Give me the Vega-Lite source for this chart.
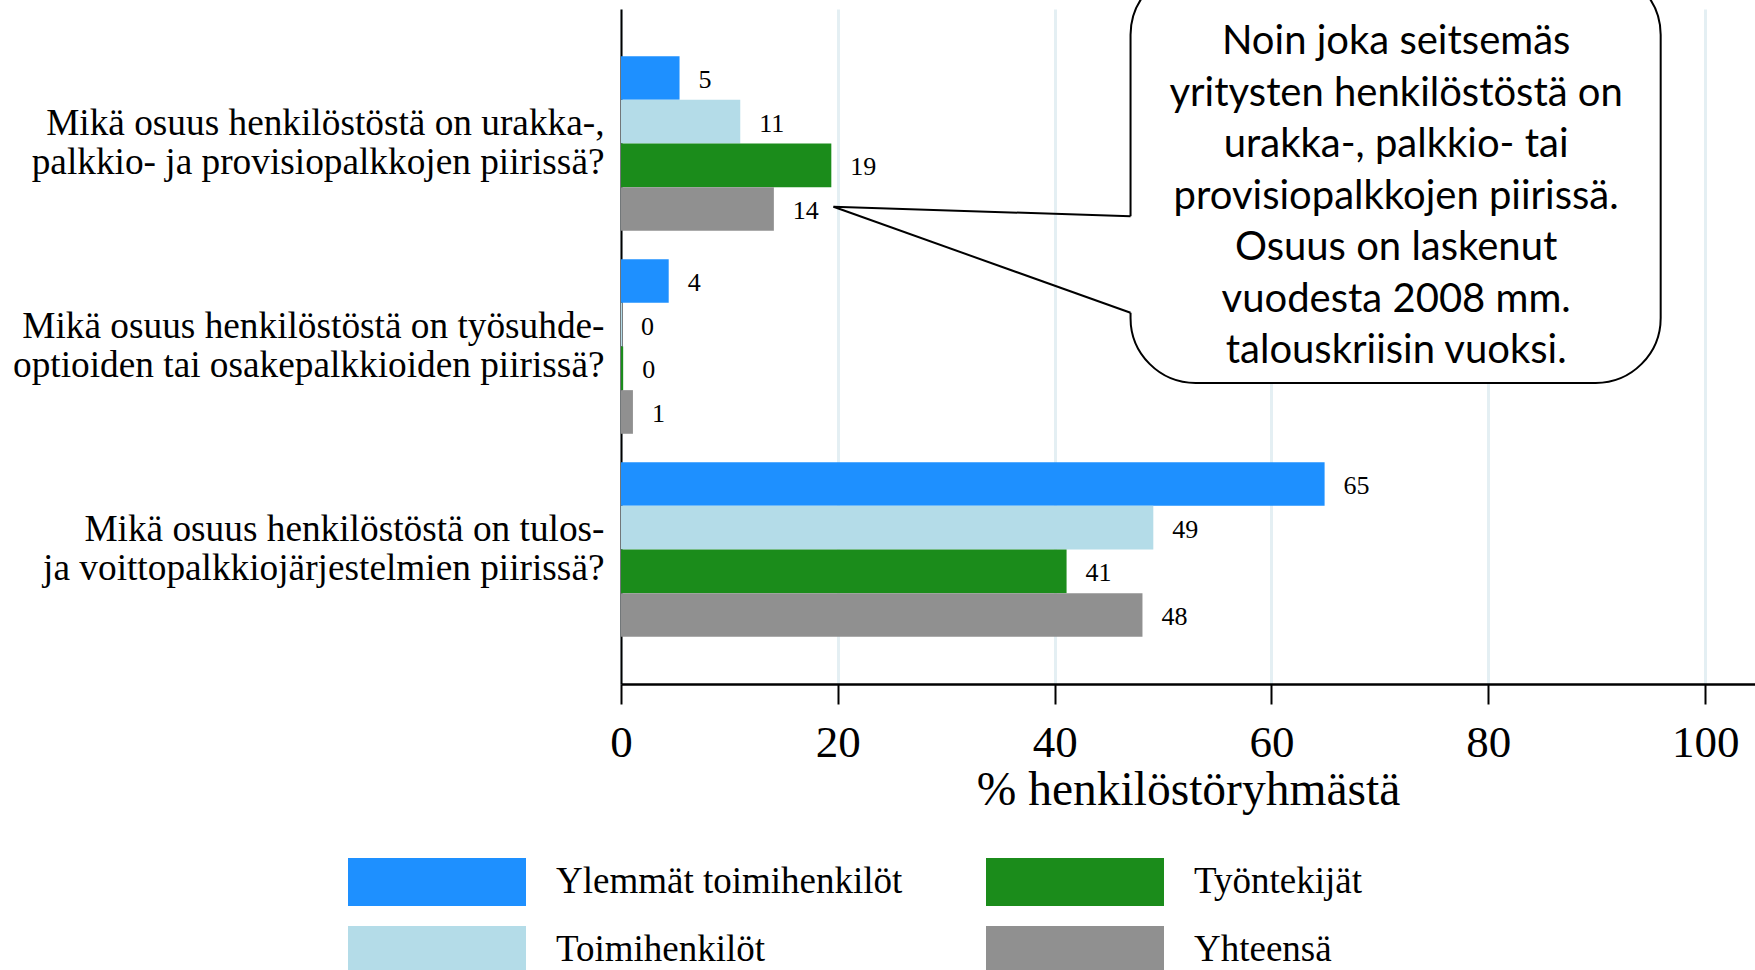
{
  "$schema": "https://vega.github.io/schema/vega-lite/v6.json",
  "autosize": "none",
  "width": 1134,
  "height": 675,
  "padding": {"left": 621, "top": 9, "right": 0, "bottom": 286},
  "config": {
    "view": {"stroke": null},
    "font": "Liberation Serif"
  },
  "datasets": {
    "bars": [
      {"question": "Mikä osuus henkilöstöstä on urakka-,\npalkkio- ja provisiopalkkojen piirissä?", "group": "Ylemmät toimihenkilöt", "value": 5.4},
      {"question": "Mikä osuus henkilöstöstä on urakka-,\npalkkio- ja provisiopalkkojen piirissä?", "group": "Toimihenkilöt", "value": 11.0},
      {"question": "Mikä osuus henkilöstöstä on urakka-,\npalkkio- ja provisiopalkkojen piirissä?", "group": "Työntekijät", "value": 19.4},
      {"question": "Mikä osuus henkilöstöstä on urakka-,\npalkkio- ja provisiopalkkojen piirissä?", "group": "Yhteensä", "value": 14.1},
      {"question": "Mikä osuus henkilöstöstä on työsuhde-\noptioiden tai osakepalkkioiden piirissä?", "group": "Ylemmät toimihenkilöt", "value": 4.4},
      {"question": "Mikä osuus henkilöstöstä on työsuhde-\noptioiden tai osakepalkkioiden piirissä?", "group": "Toimihenkilöt", "value": 0.1},
      {"question": "Mikä osuus henkilöstöstä on työsuhde-\noptioiden tai osakepalkkioiden piirissä?", "group": "Työntekijät", "value": 0.2},
      {"question": "Mikä osuus henkilöstöstä on työsuhde-\noptioiden tai osakepalkkioiden piirissä?", "group": "Yhteensä", "value": 1.1},
      {"question": "Mikä osuus henkilöstöstä on tulos-\nja voittopalkkiojärjestelmien piirissä?", "group": "Ylemmät toimihenkilöt", "value": 64.9},
      {"question": "Mikä osuus henkilöstöstä on tulos-\nja voittopalkkiojärjestelmien piirissä?", "group": "Toimihenkilöt", "value": 49.1},
      {"question": "Mikä osuus henkilöstöstä on tulos-\nja voittopalkkiojärjestelmien piirissä?", "group": "Työntekijät", "value": 41.1},
      {"question": "Mikä osuus henkilöstöstä on tulos-\nja voittopalkkiojärjestelmien piirissä?", "group": "Yhteensä", "value": 48.1}
    ],
    "bubble": [{"value": 47.0, "value2": 95.9, "pos": -0.058, "pos2": 0.554}],
    "gap": [{"value": 47.0, "pos": 0.307, "pos2": 0.45}],
    "pointer": [
      {"value": 19.6, "value2": 47.0, "pos": 0.293, "pos2": 0.307},
      {"value": 19.6, "value2": 47.0, "pos": 0.293, "pos2": 0.45}
    ],
    "note": [{"value": 71.5, "pos": 0.049, "text": "Noin joka seitsemäs\nyritysten henkilöstöstä on\nurakka-, palkkio- tai\nprovisiopalkkojen piirissä.\nOsuus on laskenut\nvuodesta 2008 mm.\ntalouskriisin vuoksi."}]
  },
  "layer": [
    {
      "data": {"name": "bars"},
      "encoding": {
        "y": {
          "field": "question", "type": "nominal",
          "sort": [
            "Mikä osuus henkilöstöstä on urakka-,\npalkkio- ja provisiopalkkojen piirissä?",
            "Mikä osuus henkilöstöstä on työsuhde-\noptioiden tai osakepalkkioiden piirissä?",
            "Mikä osuus henkilöstöstä on tulos-\nja voittopalkkiojärjestelmien piirissä?"
          ],
          "scale": {"paddingInner": 0.14, "paddingOuter": 0.2326},
          "axis": {
            "title": null, "ticks": false, "domainColor": "black", "domainWidth": 2,
            "labelFont": "Liberation Serif", "labelFontSize": 37.3, "labelColor": "black",
            "labelLineHeight": 39, "labelPadding": 17, "labelLimit": 0, "labelOffset": -19.5,
            "labelExpr": "split(datum.value, '\\n')", "grid": false
          }
        },
        "yOffset": {
          "field": "group", "type": "nominal",
          "scale": {"domain": ["Ylemmät toimihenkilöt", "Toimihenkilöt", "Työntekijät", "Yhteensä"], "paddingInner": 0, "paddingOuter": 0}
        },
        "x": {
          "field": "value", "type": "quantitative",
          "scale": {"domain": [0, 104.6], "nice": false, "zero": true},
          "axis": {
            "values": [0, 20, 40, 60, 80, 100], "grid": true, "gridColor": "#E4EFF3", "gridWidth": 3,
            "tickColor": "black", "tickSize": 20, "tickWidth": 2,
            "domainColor": "black", "domainWidth": 2.5,
            "labelFont": "Liberation Serif", "labelFontSize": 45, "labelColor": "black",
            "labelPadding": 16, "labelFlush": false, "labelOverlap": false,
            "title": "% henkilöstöryhmästä", "titleFont": "Liberation Serif", "titleFontSize": 47.5,
            "titleFontWeight": "normal", "titleColor": "black", "titlePadding": 1
          }
        }
      },
      "layer": [
        {
          "mark": {"type": "bar"},
          "encoding": {
            "color": {
              "field": "group", "type": "nominal",
              "scale": {
                "domain": ["Ylemmät toimihenkilöt", "Toimihenkilöt", "Työntekijät", "Yhteensä"],
                "range": ["#1E90FF", "#B4DCE8", "#1B8C1B", "#909090"]
              },
              "legend": {
                "orient": "none", "legendX": -273, "legendY": 839,
                "title": null, "columns": 2, "padding": 0, "rowPadding": 0, "columnPadding": 83,
                "clipHeight": 68, "symbolType": "M-1,-0.27H1V0.27H-1Z", "symbolSize": 31684,
                "symbolStrokeWidth": 0, "symbolOpacity": 1, "symbolOffset": 0,
                "labelFont": "Liberation Serif", "labelFontSize": 37, "labelColor": "black",
                "labelOffset": 30, "labelLimit": 0
              }
            }
          }
        },
        {
          "mark": {"type": "text", "align": "left", "baseline": "middle", "dx": 19, "dy": 2, "font": "Liberation Serif", "fontSize": 26, "color": "black"},
          "encoding": {
            "text": {"field": "value", "type": "quantitative", "format": ".0f"}
          }
        }
      ]
    },
    {
      "layer": [
        {
          "data": {"name": "bubble"},
          "mark": {"type": "rect", "fill": "white", "stroke": "black", "strokeWidth": 2, "cornerRadius": 65},
          "encoding": {
            "x": {"field": "value", "type": "quantitative"},
            "x2": {"field": "value2"},
            "y": {"field": "pos", "type": "quantitative", "scale": {"domain": [0, 1], "reverse": true, "nice": false, "zero": false}, "axis": null},
            "y2": {"field": "pos2"}
          }
        },
        {
          "data": {"name": "gap"},
          "mark": {"type": "rule", "color": "white", "strokeWidth": 5},
          "encoding": {
            "x": {"field": "value", "type": "quantitative"},
            "y": {"field": "pos", "type": "quantitative"},
            "y2": {"field": "pos2"}
          }
        },
        {
          "data": {"name": "pointer"},
          "mark": {"type": "rule", "color": "black", "strokeWidth": 2},
          "encoding": {
            "x": {"field": "value", "type": "quantitative"},
            "x2": {"field": "value2"},
            "y": {"field": "pos", "type": "quantitative"},
            "y2": {"field": "pos2"}
          }
        },
        {
          "data": {"name": "note"},
          "mark": {"type": "text", "align": "center", "baseline": "middle", "font": "Lato", "fontSize": 40, "lineHeight": 51.5, "lineBreak": "\n", "color": "black"},
          "encoding": {
            "x": {"field": "value", "type": "quantitative"},
            "y": {"field": "pos", "type": "quantitative"},
            "text": {"field": "text"}
          }
        }
      ]
    }
  ],
  "resolve": {"scale": {"y": "independent"}}
}
